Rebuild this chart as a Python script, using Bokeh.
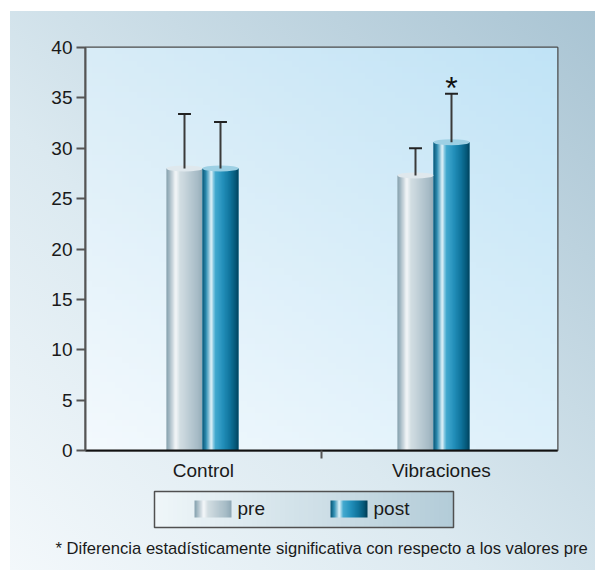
import numpy as np
from bokeh.plotting import figure
from bokeh.models import Range1d, FixedTicker, Label
from bokeh.layouts import column
from bokeh.core.properties import value
from bokeh.embed import file_html
from bokeh.resources import INLINE

# ---------------- data ----------------
categories = ["Control", "Vibraciones"]
series_names = ["pre", "post"]
pre_values = [28.0, 27.3]
post_values = [28.0, 30.6]
pre_err_top = [33.4, 30.0]
post_err_top = [32.6, 35.4]
post_marks = ["", "*"]
y_ticks = [0, 5, 10, 15, 20, 25, 30, 35, 40]
footnote = "* Diferencia estadísticamente significativa con respecto a los valores pre"

# ---------------- style ----------------
FONT = "Liberation Sans"
BAR_W = 0.1558
CAP_W = 0.056
PRE_STOPS = [(0.0, "#83a0ae"), (0.10, "#adc0ca"), (0.25, "#f5f8fa"), (0.36, "#d3dee3"),
             (0.60, "#bdcdd5"), (0.85, "#a6bbc6"), (1.0, "#8ea7b4")]
POST_STOPS = [(0.0, "#0a5574"), (0.10, "#2f8fb3"), (0.24, "#e3f4fa"), (0.34, "#45abd0"),
              (0.55, "#2390bb"), (0.75, "#0f739b"), (0.90, "#055676"), (1.0, "#003b54")]
PRE_MID = "#bccbd3"
POST_MID = "#1f86b0"
PRE_CAP = "#dfe8ed"
POST_CAP = "#9dd0e4"


def hex2rgb(h):
    h = h.lstrip("#")
    return np.array([int(h[i:i + 2], 16) for i in (0, 2, 4)], dtype=float)


def profile(stops, t):
    ts = [s[0] for s in stops]
    cs = [hex2rgb(s[1]) for s in stops]
    out = []
    for tt in t:
        for i in range(len(ts) - 1):
            if ts[i] <= tt <= ts[i + 1]:
                f = (tt - ts[i]) / (ts[i + 1] - ts[i])
                out.append(cs[i] * (1 - f) + cs[i + 1] * f)
                break
    return np.array(out)


def rgba_image(rgb):
    h, w, _ = rgb.shape
    img = np.empty((h, w), dtype=np.uint32)
    view = img.view(dtype=np.uint8).reshape((h, w, 4))
    view[..., 0:3] = np.clip(np.round(rgb), 0, 255).astype(np.uint8)
    view[..., 3] = 255
    return img


def no_align(fig):
    if "frame_align" in fig.properties():
        fig.frame_align = False


T = (np.arange(96) + 0.5) / 96
PRE_IMG = rgba_image(np.repeat(profile(PRE_STOPS, T)[None, :, :], 2, axis=0))
POST_IMG = rgba_image(np.repeat(profile(POST_STOPS, T)[None, :, :], 2, axis=0))

X_START, X_END = -0.5065, 1.5368
Y_START, Y_END = 0, 40
PW, PH = 595, 486

p = figure(width=PW, height=PH, output_backend="svg", toolbar_location=None,
           x_range=Range1d(X_START, X_END), y_range=Range1d(Y_START, Y_END),
           min_border_left=85, min_border_right=PW - 557, min_border_top=47, min_border_bottom=PH - 450)
no_align(p)
p.border_fill_color = None
p.background_fill_color = None
p.xgrid.visible = False
p.ygrid.visible = False
p.outline_line_color = "#4a4a4a"
p.outline_line_width = 2

# plot-area gradient background
H = W = 64
u = np.linspace(0, 1, W)[None, :, None]
v = np.linspace(0, 1, H)[:, None, None]
c00, c10 = hex2rgb("#f3f9fd"), hex2rgb("#ddf0fa")
c01, c11 = hex2rgb("#d8ecf7"), hex2rgb("#c0e3f6")
bg = c00 * (1 - u) * (1 - v) + c10 * u * (1 - v) + c01 * (1 - u) * v + c11 * u * v
p.image_rgba(image=[rgba_image(bg)], x=X_START, y=Y_START, dw=X_END - X_START, dh=Y_END - Y_START)

# bars: solid body + cylinder shading + top cap
centers, tops, errs, caps = [], [], [], []
for si, (vals, etops, img, mid, capc) in enumerate(
        [(pre_values, pre_err_top, PRE_IMG, PRE_MID, PRE_CAP),
         (post_values, post_err_top, POST_IMG, POST_MID, POST_CAP)]):
    xs = [ci + (si - 0.5) * BAR_W for ci in range(len(categories))]
    p.vbar(x=xs, top=vals, bottom=0, width=BAR_W, fill_color=mid, line_color=None)
    p.image_rgba(image=[img] * len(xs), x=[x - BAR_W / 2 for x in xs], y=[0] * len(xs),
                 dw=[BAR_W] * len(xs), dh=vals)
    centers += xs
    tops += vals
    errs += etops
    caps += [capc] * len(xs)

p.ellipse(x=centers, y=tops, width=BAR_W, height=0.6, fill_color=caps, line_color=None)

# error bars
p.segment(x0=centers, y0=tops, x1=centers, y1=errs, line_color="#3a3a3a", line_width=2)
p.segment(x0=[c - CAP_W / 2 for c in centers], y0=errs, x1=[c + CAP_W / 2 for c in centers], y1=errs,
          line_color="#222222", line_width=2)

# significance marks
mx = [ci + 0.5 * BAR_W for ci, m in enumerate(post_marks) if m]
my = [post_err_top[ci] for ci, m in enumerate(post_marks) if m]
mt = [m for m in post_marks if m]
p.text(x=mx, y=my, text=mt, text_font=value(FONT), text_font_size="32px", text_align="center",
       text_baseline="alphabetic", y_offset=-6, text_color="#111111")

# axes
p.yaxis.ticker = FixedTicker(ticks=y_ticks)
p.yaxis.axis_line_color = "#555555"
p.yaxis.axis_line_width = 2
p.yaxis.major_tick_out = 9
p.yaxis.major_tick_in = 0
p.yaxis.major_tick_line_color = "#555555"
p.yaxis.major_tick_line_width = 2
p.yaxis.minor_tick_line_color = None
p.yaxis.major_label_text_font = FONT
p.yaxis.major_label_text_font_size = "19px"
p.yaxis.major_label_text_color = "#1a1a1a"
p.yaxis.major_label_standoff = 4

label_pos = [0.004, 1.034]
p.xaxis.ticker = FixedTicker(ticks=label_pos, minor_ticks=[0.515])
p.xaxis.major_label_overrides = {label_pos[i]: categories[i] for i in range(len(categories))}
p.xaxis.axis_line_color = "#111111"
p.xaxis.axis_line_width = 2
p.xaxis.major_tick_out = 0
p.xaxis.major_tick_in = 0
p.xaxis.minor_tick_out = 8
p.xaxis.minor_tick_in = 0
p.xaxis.minor_tick_line_color = "#555555"
p.xaxis.minor_tick_line_width = 2
p.xaxis.major_label_text_font = FONT
p.xaxis.major_label_text_font_size = "19px"
p.xaxis.major_label_text_color = "#1a1a1a"
p.xaxis.major_label_standoff = 1

# ---------------- legend + footnote panel ----------------
LW, LH = 595, 84
q = figure(width=LW, height=LH, output_backend="svg", toolbar_location=None,
           x_range=Range1d(0, LW), y_range=Range1d(LH, 0),
           min_border_left=0, min_border_right=0, min_border_top=0, min_border_bottom=0)
no_align(q)
q.axis.visible = False
q.xgrid.visible = False
q.ygrid.visible = False
q.outline_line_color = None
q.border_fill_color = None
q.background_fill_color = None

box_l, box_r, box_t, box_b = 154, 453, 5, 41
lg = np.linspace(0, 1, 64)[None, :, None]
leg_bg = hex2rgb("#eff6f9") * (1 - lg) + hex2rgb("#b3ccd8") * lg
q.image_rgba(image=[rgba_image(np.repeat(leg_bg, 2, axis=0))], x=box_l, y=box_t,
             dw=box_r - box_l, dh=box_b - box_t)
q.quad(left=box_l, right=box_r, top=box_t, bottom=box_b, fill_color=None, line_color="#505050", line_width=1.5)

q.image_rgba(image=[PRE_IMG, POST_IMG], x=[194, 330], y=[14, 14], dw=[37, 37], dh=[17, 17])
q.text(x=[237, 373], y=[22, 22], text=series_names, text_font=value(FONT), text_font_size="19px",
       text_baseline="middle", text_align="left", text_color="#1a1a1a")
q.add_layout(Label(x=55, y=62, text=footnote, text_font=FONT, text_font_size="16.6px",
                   text_baseline="middle", text_align="left", text_color="#1a1a1a"))

layout = column(p, q, spacing=0,
                styles={"background": "linear-gradient(to top right, #f3f8fb 0%, #dbe9f0 40%, #a9c4d3 100%) "
                                      "10px 11px / calc(100% - 10px) calc(100% - 11px) no-repeat, #ffffff"})

open("out.html", "w").write(file_html(layout, INLINE))
